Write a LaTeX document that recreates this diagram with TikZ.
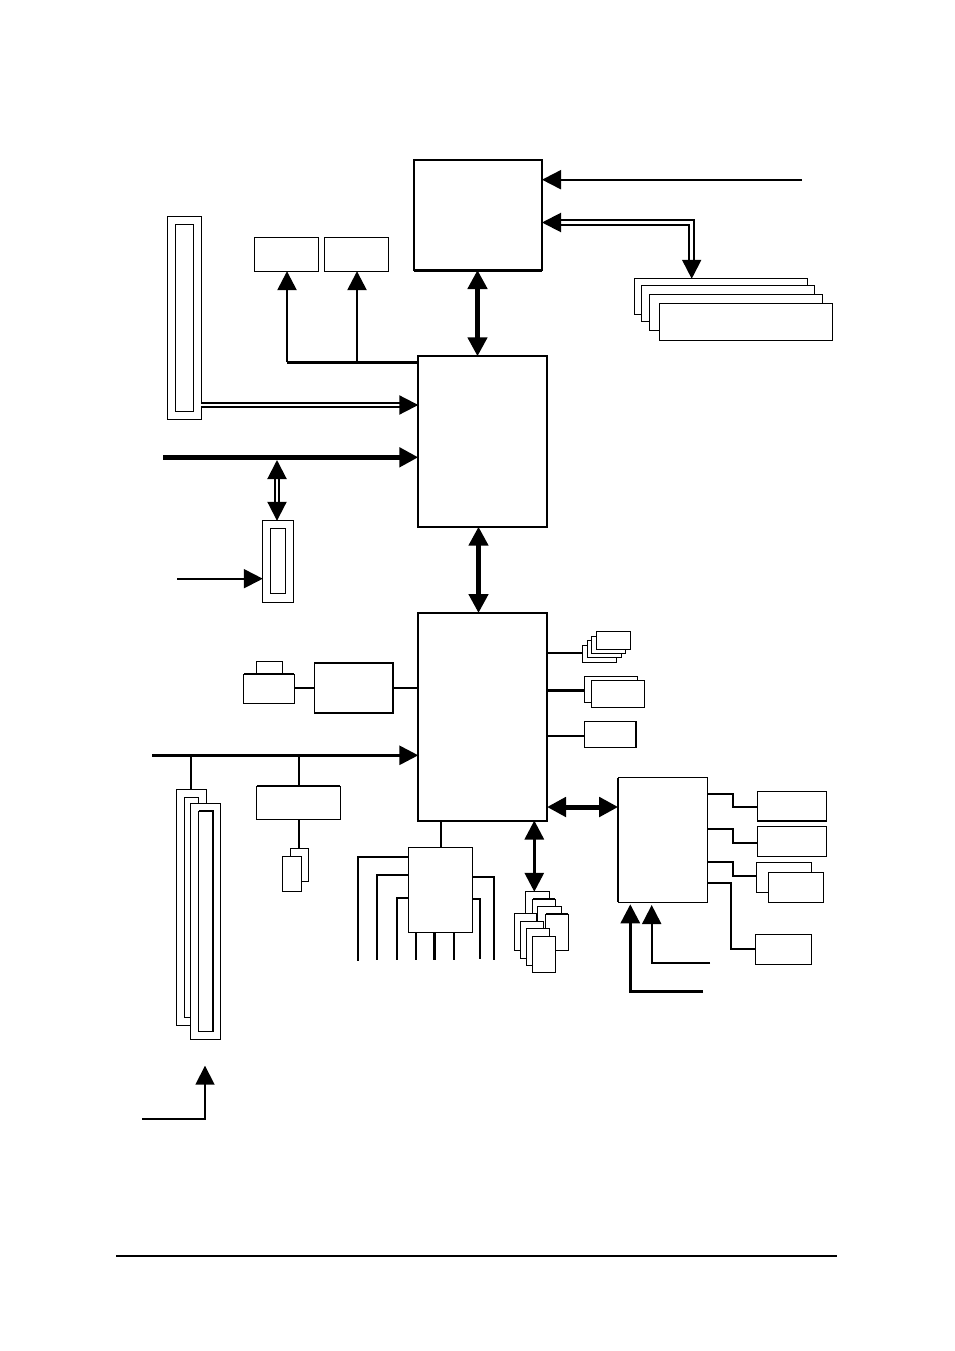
\documentclass[tikz,border=0pt]{standalone}
\usepackage{amsmath}
\usetikzlibrary{arrows.meta,calc}
% a white block given by two corners
\newcommand{\blk}[6][]{%
  \node[blk,#1,minimum width={(#5-#3)*1pt},minimum height={(#6-#4)*1pt}] (#2) at ({(#3+#5)/2},{(#4+#6)/2}) {};}
\tikzset{
  blk/.style={draw,fill=white,line width=1pt,inner sep=0pt,outer sep=0pt},
  chip/.style={line width=2pt},
  wire/.style={line width=1.8pt},
  link/.style={line width=2.6pt},
  twin/.style={line width=2pt,double distance=2.8pt},
  fat/.style={line width=4.6pt},
}
\begin{document}
\begin{tikzpicture}[x=1pt,y=-1pt,>={Triangle[length=19pt,width=19pt]}]
  \useasboundingbox (0,0) rectangle (954,1351);
  % main chips
  \blk[chip]{cpu}{414}{160.5}{542}{270}
  \draw[line width=3pt] (cpu.south west) -- (cpu.south east);
  \blk[chip]{north}{418.3}{356.3}{547}{526.7}
  \blk[chip]{south}{418.3}{613}{547}{820.5}
  \draw[fat,<->] (477.5,0 |- cpu.south) -- (477.5,0 |- north.north);
  \draw[fat,<->] (478.5,0 |- north.south) -- (478.5,0 |- south.north);
  % upper left slots
  \blk{vrma}{254.5}{237.8}{318.2}{271.2}
  \blk{vrmb}{324.5}{237.8}{388.2}{271.2}
  \blk{agpouter}{167.8}{216.8}{201.2}{419}
  \blk{agpinner}{175.8}{224.8}{193.2}{411.2}
  \blk{cnrouter}{262.8}{520.8}{293.2}{602.2}
  \blk{cnrinner}{270.8}{528.8}{285.2}{593.8}
  \coordinate (vbus) at (287,362.2);
  \coordinate (vtap) at (357,362.2);
  \draw[line width=3pt] (vbus) -- (vbus -| north.west);
  \draw[link,->] (vbus) -- (vbus |- vrma.south);
  \draw[link,->] (vtap) -- (vtap |- vrmb.south);
  \coordinate (agp) at (0,405);
  \draw[twin,->] (agp -| agpouter.east) -- (agp -| north.west);
  \coordinate (hub) at (163,457.3);
  \draw[line width=5pt,->] (hub) -- (hub -| north.west);
  \coordinate (hubtap) at (277,460);
  \draw[twin,<->] (hubtap) -- (hubtap |- cnrouter.north);
  \coordinate (cnrin) at (177,578.7);
  \draw[chip,->] (cnrin) -- (cnrin -| cnrouter.west);
  % memory rank and clock
  \blk{dimma}{634.8}{278.8}{807.2}{314.8}
  \blk{dimmb}{641.8}{285.8}{814.2}{321.8}
  \blk{dimmc}{649.8}{294.8}{822.2}{330.8}
  \blk{dimmd}{659.8}{303.8}{832.2}{340.3}
  \coordinate (fsb) at (802,179.7);
  \draw[chip,->] (fsb) -- (fsb -| cpu.east);
  \coordinate (membus) at (691.7,222.5);
  \draw[twin,<->] (membus -| cpu.east) -- (membus) -- (membus |- dimma.north);
  % south chip, right side
  \blk{usba}{582.8}{645.8}{616.2}{662.2}
  \blk{usbb}{587.8}{640.8}{621.2}{657.8}
  \blk{usbc}{591.8}{636.8}{625.2}{653.2}
  \blk{usbd}{596.8}{631.8}{630.2}{649.2}
  \blk{ataa}{584.8}{676.8}{637.2}{702.5}
  \blk{atab}{591.8}{680.8}{644.2}{707.2}
  \blk{aud}{584.8}{721.8}{636}{747.2}
  \draw[line width=2pt] (aud.north east) -- (aud.south east);
  \coordinate (usbline) at (0,653);
  \draw[wire] (usbline -| south.east) -- (usbline -| usba.west);
  \coordinate (ataline) at (0,690.3);
  \draw[line width=3pt] (ataline -| south.east) -- (ataline -| ataa.west);
  \coordinate (audline) at (0,735.7);
  \draw[wire] (audline -| south.east) -- (audline -| aud.west);
  % super I/O and its ports
  \blk{sio}{618.2}{777.8}{707.2}{902.2}
  \draw[line width=2pt] (sio.north west) -- (sio.south west);
  \blk{ps}{757.8}{791.8}{826.2}{821.2}
  \draw[line width=2pt] (ps.south west) -- (ps.south east);
  \blk{com}{757.8}{826.8}{826.2}{856.2}
  \blk{lpta}{756.8}{862.8}{811.2}{892.2}
  \blk{lptb}{768.8}{872.8}{823.2}{902.2}
  \blk{fdd}{755.8}{934.8}{811.2}{964.3}
  \coordinate (sioline) at (0,807);
  \draw[line width=5pt,<->] (sioline -| south.east) -- (sioline -| sio.west);
  \draw[wire] (707,793.7) -- (733,793.7) -- (733,0 |- sioline) -- (sioline -| ps.west);
  \draw[wire] (707,829) -- (733,829) -- (733,842.7) -- (733,842.7 -| com.west);
  \draw[link] (707,862) -- (733,862) -- (733,876) -- (733,876 -| lpta.west);
  \draw[wire] (707,883) -- (731,883) -- (731,949) -- (731,949 -| fdd.west);
  \coordinate (kbin) at (703,991.2);
  \coordinate (msin) at (710,962.7);
  \draw[line width=3pt,->] (kbin) -- (630.3,991.2) -- (630.3,904.3);
  \draw[chip,->] (msin) -- (651.7,962.7) -- (651.7,905);
  % lan and bios
  \blk{rjtop}{256.8}{661.8}{282.2}{674}
  \blk{rj}{243.8}{674}{294.2}{703}
  \draw[line width=2pt] (rj.north west) -- (rj.north east);
  \blk[line width=1.5pt]{lan}{314.3}{663.2}{393.2}{713}
  \draw[wire] (rj.east |- lan.center) -- (lan.center -| lan.west);
  \draw[wire] (lan.center -| lan.east) -- (lan.center -| south.west);
  % pci bus, slots and the chip hanging off it
  \blk{pcia}{176.8}{789.8}{206.2}{1025}
  \blk{pcib}{184.8}{797.8}{198.2}{1017}
  \blk{pcic}{190.8}{803.8}{220.2}{1039.3}
  \blk{pcid}{198.8}{811.2}{213}{1031.5}
  \draw[line width=2pt] (pcid.north west) -- (pcid.north east) -- (pcid.south east);
  \blk{codec}{256.8}{786.2}{340.2}{819.2}
  \draw[line width=1.5pt] (codec.north west) -- (codec.north east);
  \blk{jacka}{290.8}{848.8}{308.2}{881}
  \blk{jackb}{282.8}{856.8}{301.2}{891.8}
  \coordinate (pcibus) at (152,755.3);
  \draw[line width=3pt,->] (pcibus) -- (pcibus -| south.west);
  \draw[link] (191,755.3) -- (191,0 |- pcia.north);
  \draw[link] (299,755.3) -- (299,0 |- codec.north);
  \draw[link] (299,0 |- codec.south) -- (299,0 |- jacka.north);
  \coordinate (pcipwr) at (142,1118.7);
  \coordinate (pcipwrtip) at (205,1065.7);
  \draw[wire,->] (pcipwr) -- (pcipwr -| pcipwrtip) -- (pcipwrtip);
  % usb hub below the south chip
  \blk{hubchip}{408.8}{847.8}{472.2}{932.2}
  \draw[wire] (441,0 |- south.south) -- (441,0 |- hubchip.north);
  \draw[wire] (358,960.7) -- (358,857) -- (358,857 -| hubchip.west);
  \draw[wire] (377,959.7) -- (377,875) -- (377,875 -| hubchip.west);
  \draw[wire] (397,959.7) -- (397,898) -- (397,898 -| hubchip.west);
  \draw[wire] (416,0 |- hubchip.south) -- (416,959.7);
  \draw[link] (434.3,0 |- hubchip.south) -- (434.3,959.7);
  \draw[wire] (454,0 |- hubchip.south) -- (454,959.7);
  \draw[wire] (494,959.7) -- (494,877) -- (494,877 -| hubchip.east);
  \draw[wire] (480,958.7) -- (480,898.7) -- (480,898.7 -| hubchip.east);
  % card stacks
  \blk{idea}{525.8}{891.8}{549.2}{928}
  \blk{ideb}{532.8}{899.2}{555.2}{935}
  \draw[line width=1.5pt] (ideb.north west) -- (ideb.north east);
  \blk{idec}{537.8}{906.8}{561.2}{943}
  \blk{ided}{545.8}{914.2}{568.2}{950.8}
  \draw[line width=1.6pt] (ided.north west) -- (ided.north east);
  \blk{idee}{514.8}{913.8}{536.8}{950.8}
  \blk{idef}{520.8}{921.8}{543.2}{958.2}
  \blk{ideg}{526.8}{928.8}{549.8}{965.8}
  \blk{ideh}{532.8}{936.8}{555.2}{972.8}
  \draw[line width=3pt,<->] (534.3,0 |- south.south) -- (534.3,0 |- idea.north);
  % page rule
  \coordinate (rulestart) at (116,1256);
  \coordinate (ruleend) at (837,1256);
  \draw[line width=2pt] (rulestart) -- (ruleend);
\end{tikzpicture}
\end{document}
